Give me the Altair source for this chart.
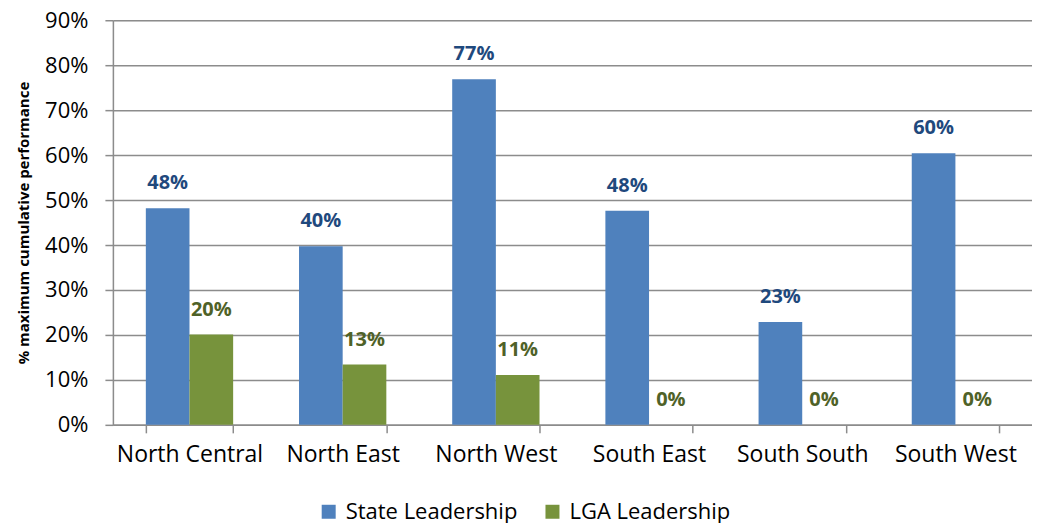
import altair as alt
import pandas as pd

regions = ["North Central", "North East", "North West", "South East", "South South", "South West"]
state_vals = [48.2, 39.7, 76.9, 47.6, 22.9, 60.4]
lga_vals = [20.1, 13.4, 11.1, 0.0, 0.0, 0.0]
series = ["State Leadership", "LGA Leadership"]
bar_colors = ["#4F81BD", "#77933C"]
label_colors = ["#1F497D", "#4F6228"]
y_ticks = [0, 10, 20, 30, 40, 50, 60, 70, 80, 90]

rows = []
for i, r in enumerate(regions):
    rows.append({"region": r, "series": series[0], "value": state_vals[i], "order": 0})
    rows.append({"region": r, "series": series[1], "value": lga_vals[i], "order": 1})
df = pd.DataFrame(rows)
df["label"] = df["value"].round(0).astype(int).astype(str) + "%"

FONT = "Open Sans"

x_enc = alt.X("region:N", sort=regions, title=None,
              scale=alt.Scale(paddingInner=0.43, paddingOuter=0.215),
              axis=alt.Axis(labelAngle=0, labelFontSize=23, labelColor="#000000",
                            labelFont=FONT, tickBand="extent", tickSize=8,
                            tickColor="#8c8c8c", tickWidth=1.5, domainColor="#8c8c8c",
                            domainWidth=1.5, labelPadding=11, grid=False))
y_enc = alt.Y("value:Q", title="% maximum cumulative performance",
              scale=alt.Scale(domain=[0, 90], nice=False),
              axis=alt.Axis(values=y_ticks, labelExpr="datum.value + '%'",
                            labelFontSize=22, labelFont=FONT, labelColor="#000000",
                            tickSize=8, tickColor="#8c8c8c", tickWidth=1.5,
                            domainColor="#8c8c8c", domainWidth=1.5, labelPadding=17,
                            gridColor="#8c8c8c", gridWidth=1.5,
                            titleFont=FONT, titleFontSize=15, titleFontWeight="bold",
                            titleColor="#000000", titlePadding=13))
xoff = alt.XOffset("series:N", sort=series)

bars = alt.Chart(df).mark_bar().encode(
    x=x_enc, y=y_enc, xOffset=xoff,
    color=alt.Color("series:N", sort=series,
                    scale=alt.Scale(domain=series, range=bar_colors),
                    legend=alt.Legend(title=None, orient="none", direction="horizontal",
                                      legendX=205, legendY=481,
                                      symbolType="square", symbolSize=196,
                                      symbolStrokeWidth=0, labelFontSize=22,
                                      labelFont=FONT, labelColor="#000000",
                                      labelLimit=400,
                                      labelOffset=6, columnPadding=24)),
)

labels = alt.Chart(df).mark_text(fontSize=20, font=FONT, fontWeight="bold",
                                 baseline="middle", dy=-25).encode(
    x=alt.X("region:N", sort=regions),
    y=alt.Y("value:Q"),
    xOffset=xoff,
    text="label:N",
    color=alt.Color("series:N", sort=series,
                    scale=alt.Scale(domain=series, range=label_colors), legend=None),
)

chart = alt.layer(bars, labels).resolve_scale(color="independent").properties(
    width=920, height=405,
    padding={"left": 8, "top": 1, "right": 0, "bottom": 0},
).configure_view(stroke=None).configure(background="white")

chart.save("out.html", embed_options={"renderer": "svg", "actions": False})
